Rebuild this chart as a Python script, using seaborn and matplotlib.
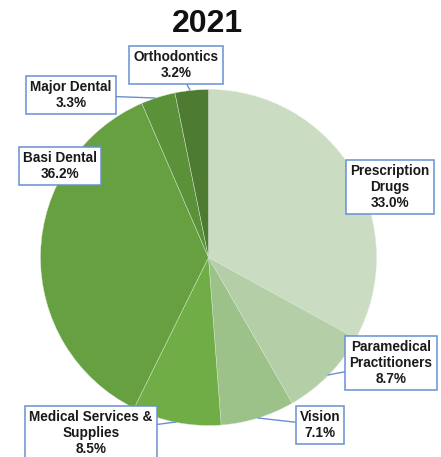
import matplotlib
matplotlib.use("Agg")
import matplotlib.pyplot as plt
import seaborn as sns

sns.set_theme(style="white")
plt.rcParams['font.family'] = ['Liberation Sans', 'DejaVu Sans']

categories = ["Prescription\nDrugs", "Paramedical\nPractitioners", "Vision",
              "Medical Services &\nSupplies", "Basi Dental", "Major Dental", "Orthodontics"]
values = [33.0, 8.7, 7.1, 8.5, 36.2, 3.3, 3.2]
colors = ["#CADDC2", "#B4CFA8", "#9CC189", "#71AD47", "#67A040", "#5B9139", "#4D7B31"]
title = "2021"

W, H = 441, 457
fig = plt.figure(figsize=(W / 100, H / 100), dpi=100)
ax = fig.add_axes([0, 0, 1, 1])

cx, cy, r = 208.5, H - 257.5, 168
ax.pie(values, colors=sns.color_palette(colors), startangle=90, counterclock=False,
       center=(cx, cy), radius=r, frame=True,
       wedgeprops=dict(edgecolor="#DDE8D6", linewidth=0.3))
ax.set_xlim(0, W)
ax.set_ylim(0, H)
ax.set_aspect('equal')
ax.axis('off')

# label box centres (image px) and leader anchor on pie
label_pos = [(390, 187), (391, 363), (320, 425), (91, 433), (60, 166), (71, 95), (176, 65)]
anchors = [None, (328, 375), (258, 418), (176, 422), None, (155, 98), (190, 90)]

for cat, v, (tx, ty), anc in zip(categories, values, label_pos, anchors):
    txt = f"{cat}\n{v:.1f}%"
    kw = dict(ha="center", va="center", fontsize=9.8, fontweight="bold", color="#1a1a1a",
              linespacing=1.2,
              bbox=dict(boxstyle="square,pad=0.3", fc="white", ec="#6A8FD4", lw=1.1))
    if anc is None:
        ax.text(tx, H - ty, txt, **kw)
    else:
        ax.annotate(txt, xy=(anc[0], H - anc[1]), xytext=(tx, H - ty),
                    arrowprops=dict(arrowstyle="-", color="#6A8FD4", lw=1.0,
                                    shrinkA=0, shrinkB=0), **kw)

fig.text(207 / W, 1 - 24 / H, title, ha="center", va="center", fontsize=23, fontweight="bold",
         color="#111111")

fig.savefig("out.png", dpi=100)
